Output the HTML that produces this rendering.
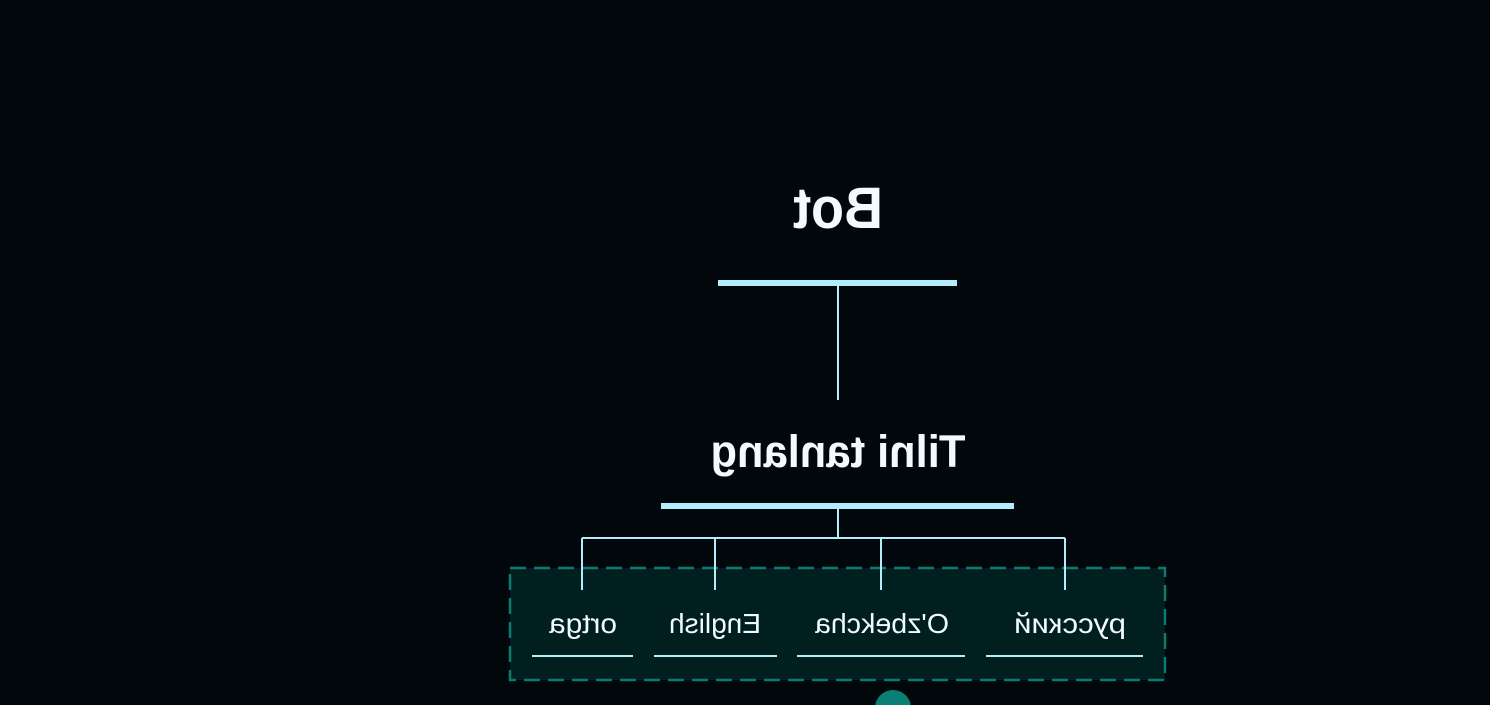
<!DOCTYPE html>
<html><head><meta charset="utf-8"><style>
html,body{margin:0;padding:0;background:#01070b;width:1490px;height:705px;overflow:hidden}
svg{display:block}
text{font-family:"Liberation Sans",sans-serif;fill:#f0faff}
</style></head><body>
<svg width="1490" height="705" viewBox="0 0 1490 705">
<rect width="1490" height="705" fill="#01070b"/>
<text transform="translate(838,228) scale(-1,1)" x="0" y="0" text-anchor="middle" font-size="58" font-weight="bold" textLength="90" lengthAdjust="spacingAndGlyphs">Bot</text>
<rect x="718" y="280" width="239" height="6" fill="#b3ecfb"/>
<line x1="838" y1="286" x2="838" y2="400" stroke="#b3ecfb" stroke-width="2"/>
<text transform="translate(838,467) scale(-1,1)" x="0" y="0" text-anchor="middle" font-size="45" font-weight="bold" textLength="255" lengthAdjust="spacingAndGlyphs">Tilni tanlang</text>
<rect x="661" y="503" width="353" height="6" fill="#b3ecfb"/>
<rect x="510" y="568" width="655" height="112" fill="#021f1f" stroke="#0a7a72" stroke-width="2.5" stroke-dasharray="16,8"/>
<g stroke="#b3ecfb" stroke-width="2" fill="none">
<line x1="838" y1="509" x2="838" y2="538"/>
<line x1="582" y1="538" x2="1065" y2="538"/>
<line x1="582" y1="538" x2="582" y2="590"/>
<line x1="715" y1="538" x2="715" y2="590"/>
<line x1="881" y1="538" x2="881" y2="590"/>
<line x1="1065" y1="538" x2="1065" y2="590"/>
</g>
<g font-size="28">
<text transform="translate(583,633) scale(-1,1)" text-anchor="middle" textLength="68" lengthAdjust="spacingAndGlyphs">ortga</text>
<text transform="translate(715,633) scale(-1,1)" text-anchor="middle" textLength="92" lengthAdjust="spacingAndGlyphs">English</text>
<text transform="translate(882,633) scale(-1,1)" text-anchor="middle" textLength="134" lengthAdjust="spacingAndGlyphs">O'zbekcha</text>
<text transform="translate(1070,633) scale(-1,1)" text-anchor="middle" textLength="112" lengthAdjust="spacingAndGlyphs">русский</text>
</g>
<g stroke="#b3ecfb" stroke-width="2">
<line x1="532" y1="656" x2="633" y2="656"/>
<line x1="654" y1="656" x2="777" y2="656"/>
<line x1="797" y1="656" x2="965" y2="656"/>
<line x1="986" y1="656" x2="1143" y2="656"/>
</g>
<circle cx="893" cy="708" r="18" fill="#0a7f75"/>
</svg>
</body></html>
